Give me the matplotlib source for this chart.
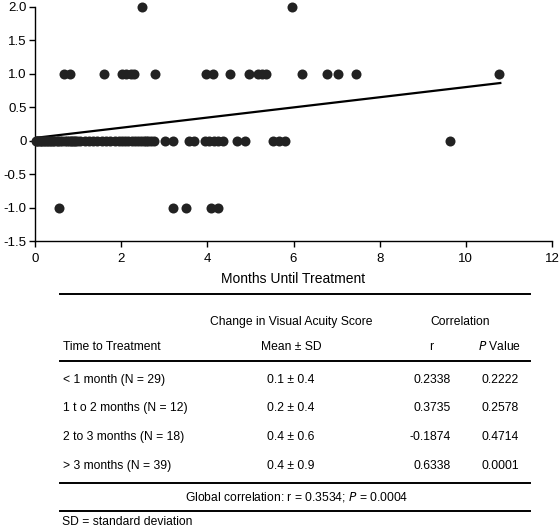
import matplotlib
matplotlib.use("Agg")
import matplotlib.pyplot as plt

plt.rcParams['font.family'] = ['Liberation Sans', 'DejaVu Sans']

# ---------------- data ----------------
months_y2 = [2.48, 5.97]
months_y1 = [0.68, 0.81, 1.60, 2.02, 2.12, 2.22, 2.30, 2.78, 3.98, 4.12, 4.52,
             4.97, 5.17, 5.27, 5.37, 6.19, 6.77, 7.04, 7.45, 10.77]
months_ym1 = [0.56, 3.21, 3.50, 4.08, 4.25]
months_y0 = [0.02, 0.05, 0.08, 0.11, 0.14, 0.17, 0.20, 0.23, 0.27, 0.30, 0.34,
             0.38, 0.42, 0.45, 0.50, 0.54, 0.58, 0.63, 0.70, 0.74, 0.78, 0.83,
             0.87, 0.90, 0.94, 0.98,
             1.05, 1.15, 1.25, 1.35, 1.45, 1.55, 1.65, 1.75, 1.85, 1.95,
             2.03, 2.10, 2.17, 2.25, 2.32, 2.40, 2.45, 2.52, 2.58, 2.63, 2.70, 2.77,
             3.02, 3.20, 3.57, 3.70, 3.95, 4.05, 4.15, 4.25, 4.36, 4.68, 4.87,
             5.52, 5.66, 5.80, 9.64]
fit_x = [0.0, 10.8]
fit_y = [0.04, 0.86]

x_ticks = [0, 2, 4, 6, 8, 10, 12]
y_ticks = [2.0, 1.5, 1.0, 0.5, 0.0, -0.5, -1.0, -1.5]
y_tick_labels = ["2.0", "1.5", "1.0", "0.5", "0", "-0.5", "-1.0", "-1.5"]
x_label = "Months Until Treatment"

header_group = ["Change in Visual Acuity Score", "Correlation"]
header_cols = ["Time to Treatment", "Mean \u00b1 SD", "r"]
row_labels = ["< 1 month (N = 29)", "1 t o 2 months (N = 12)",
              "2 to 3 months (N = 18)", "> 3 months (N = 39)"]
mean_sd = ["0.1 \u00b1 0.4", "0.2 \u00b1 0.4", "0.4 \u00b1 0.6", "0.4 \u00b1 0.9"]
r_vals = ["0.2338", "0.3735", "-0.1874", "0.6338"]
p_vals = ["0.2222", "0.2578", "0.4714", "0.0001"]
footnote = "SD = standard deviation"

# ---------------- figure ----------------
W, H = 560, 529
fig = plt.figure(figsize=(W / 100, H / 100), dpi=100)
ax = fig.add_axes([35 / W, 1 - 241 / H, (552 - 35) / W, (241 - 6.7) / H])

pt_color = "#222222"
ms = 52
ax.scatter(months_y0, [0] * len(months_y0), s=ms, color=pt_color, clip_on=False, zorder=3, linewidths=0)
ax.scatter(months_y1, [1] * len(months_y1), s=ms, color=pt_color, clip_on=False, zorder=3, linewidths=0)
ax.scatter(months_y2, [2] * len(months_y2), s=ms, color=pt_color, clip_on=False, zorder=3, linewidths=0)
ax.scatter(months_ym1, [-1] * len(months_ym1), s=ms, color=pt_color, clip_on=False, zorder=3, linewidths=0)
ax.plot(fit_x, fit_y, color="black", lw=1.6, zorder=2)

ax.set_xlim(0, 12)
ax.set_ylim(-1.5, 2.0)
ax.set_xticks(x_ticks)
ax.set_xticklabels([str(t) for t in x_ticks])
ax.set_yticks(y_ticks)
ax.set_yticklabels(y_tick_labels)
for s in ["top", "right"]:
    ax.spines[s].set_visible(False)
for s in ["left", "bottom"]:
    ax.spines[s].set_linewidth(1.0)
ax.tick_params(direction="out", length=4, width=1.0, labelsize=9.5)
ax.tick_params(axis="x", pad=5)
ax.tick_params(axis="y", pad=2)
ax.set_xlabel(x_label, fontsize=10, labelpad=5)

# ---------------- table ----------------
tx = fig.add_axes([0, 0, 1, 1])
tx.set_xlim(0, W)
tx.set_ylim(H, 0)
tx.axis("off")

L, R = 60, 530
fs = 8.7
for yl in [294, 361, 483, 511]:
    tx.plot([L, R], [yl, yl], color="black", lw=1.4)

c_mean = 291
c_rr = 451
c_r = 431
c_p = 500
c_corr = 460

tx.text(c_mean, 322, header_group[0], ha="center", va="center", fontsize=fs)
tx.text(c_corr, 322, header_group[1], ha="center", va="center", fontsize=fs)
tx.text(L + 3, 347, header_cols[0], ha="left", va="center", fontsize=fs)
tx.text(c_mean, 347, header_cols[1], ha="center", va="center", fontsize=fs)
tx.text(c_r, 347, header_cols[2], ha="center", va="center", fontsize=fs)
tx.text(c_p, 347, r"$\it{P}$ Value", ha="center", va="center", fontsize=fs)

row_y = [380, 408, 437, 466]
for i, yv in enumerate(row_y):
    tx.text(L + 3, yv, row_labels[i], ha="left", va="center", fontsize=fs)
    tx.text(c_mean, yv, mean_sd[i], ha="center", va="center", fontsize=fs)
    tx.text(c_rr, yv, r_vals[i], ha="right", va="center", fontsize=fs)
    tx.text(c_p, yv, p_vals[i], ha="center", va="center", fontsize=fs)

tx.text(297, 497, "Global correlation: r = 0.3534; $\\it{P}$ = 0.0004",
        ha="center", va="center", fontsize=fs)
tx.text(L + 2, 522, footnote, ha="left", va="center", fontsize=fs)

fig.savefig("out.png", dpi=100)
